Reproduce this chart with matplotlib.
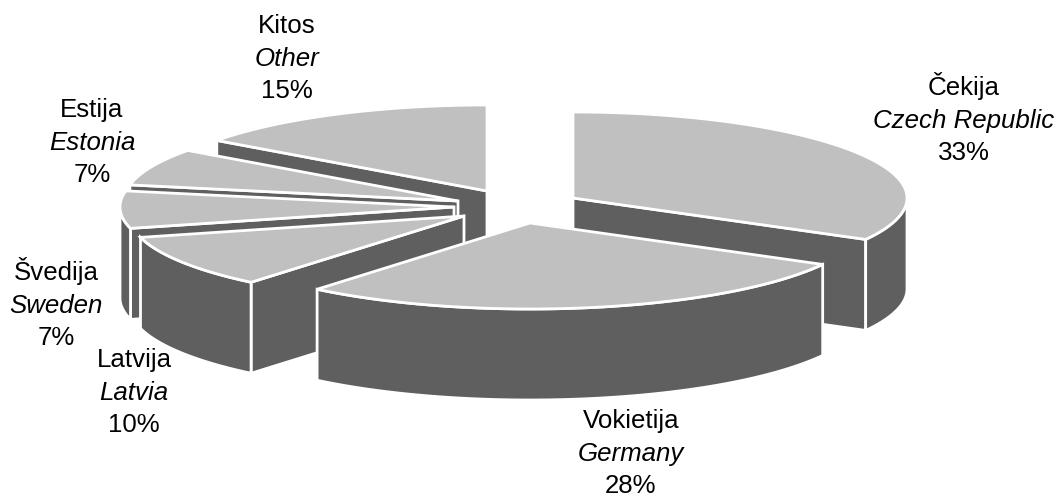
import numpy as np
import matplotlib
matplotlib.use("Agg")
import matplotlib.pyplot as plt
from matplotlib.patches import Polygon

plt.rcParams['font.family'] = ['Liberation Sans', 'DejaVu Sans']

names_lt = ["Čekija", "Vokietija", "Latvija", "Švedija", "Estija", "Kitos"]
names_en = ["Czech Republic", "Germany", "Latvia", "Sweden", "Estonia", "Other"]
shares = [33, 28, 10, 7, 7, 15]

# exploded-slice apex of each slice, and label anchors (pixel space)
apex_x = [573, 530, 464, 454, 458, 487]
apex_y = [198, 223, 216, 207, 201, 191]
label_x = [964, 631, 134, 56, 92, 287]
label_base = [95, 428, 367, 280, 117, 33]
LINE = 32.7
RX, RY, DEPTH = 334, 86, 91
TOP, WALL = "#C0C0C0", "#5F5F5F"

fig = plt.figure(figsize=(10.56, 4.99), dpi=100)
ax = fig.add_axes([0, 0, 1, 1])
ax.set_xlim(0, 1056)
ax.set_ylim(499, 0)
ax.axis("off")

edges = np.concatenate([[0], np.cumsum(shares)]) / np.sum(shares) * 360.0


def rim(cx, cy, t0, t1, dy=0.0):
    t = np.radians(np.linspace(t0, t1, 120))
    return np.column_stack([cx + RX * np.sin(t), cy - RY * np.cos(t) + dy])


def face(pts, color, z):
    ax.add_patch(Polygon(pts, closed=True, facecolor=color, edgecolor="white",
                         linewidth=2.0, joinstyle="miter", zorder=z))


def cut(cx, cy, ang, z):
    p = rim(cx, cy, ang, ang)[0]
    face([(cx, cy), p, (p[0], p[1] + DEPTH), (cx, cy + DEPTH)], WALL, z)


# painter's order: rear slices first, Germany last
order = [5, 0, 4, 3, 2, 1]
for rank, i in enumerate(order):
    z = 10 + rank * 5
    t0, t1 = edges[i], edges[i + 1]
    cx, cy = apex_x[i], apex_y[i]
    if 180 < t0 < 360:
        cut(cx, cy, t0, z)
    if 0 < t1 < 180:
        cut(cx, cy, t1, z + 1)
    a0, a1 = max(t0, 90), min(t1, 270)
    if a1 > a0:
        front = rim(cx, cy, a0, a1)
        back = rim(cx, cy, a0, a1, DEPTH)[::-1]
        face(np.vstack([front, back]), WALL, z + 2)
    face(np.vstack([[(cx, cy)], rim(cx, cy, t0, t1)]), TOP, z + 3)

for i in range(len(shares)):
    kw = dict(ha="center", va="baseline", fontsize=18.6, color="black", zorder=60)
    ax.text(label_x[i], label_base[i], names_lt[i], **kw)
    ax.text(label_x[i], label_base[i] + LINE, names_en[i], style="italic", **kw)
    ax.text(label_x[i], label_base[i] + 2 * LINE, f"{shares[i]}%", **kw)

fig.savefig("out.png", dpi=100, facecolor="white")
